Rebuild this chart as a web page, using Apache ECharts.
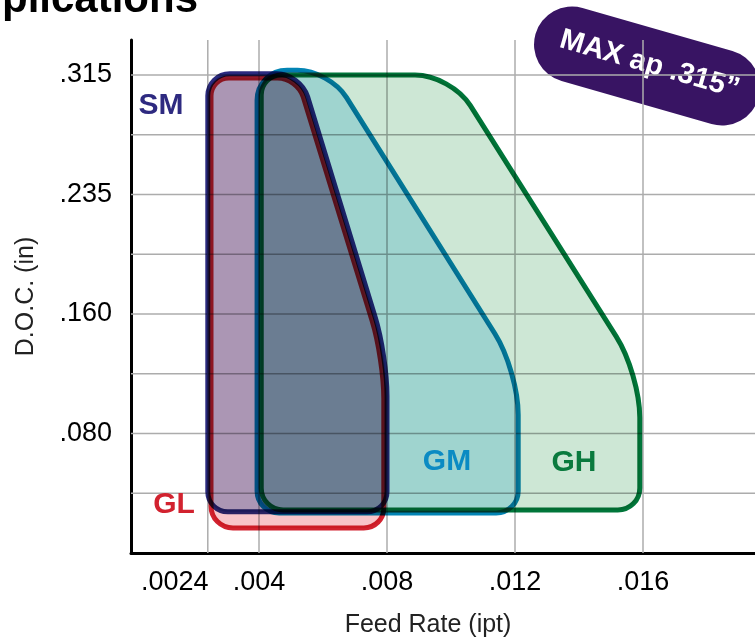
<!DOCTYPE html>
<html>
<head>
<meta charset="utf-8">
<script src="https://cdn.jsdelivr.net/npm/echarts@6/dist/echarts.min.js"></script>
<style>
  html, body { margin: 0; padding: 0; background: #ffffff; }
  #chart { width: 755px; height: 639px; }
</style>
</head>
<body>
<div id="chart"></div>
<script>
// Feed-rate axis (inches per tooth)
const feedTicks = [0.0024, 0.004, 0.008, 0.012, 0.016];
const feedTickLabels = ['.0024', '.004', '.008', '.012', '.016'];

// Depth-of-cut axis is laid out on evenly spaced rows
const docRows = [1, 2, 3, 4, 5, 6, 7, 8];
const docTickRows = [2, 4, 6, 8];
const docTickLabels = ['.080', '.160', '.235', '.315'];

// Operating windows: corners listed top-left, top-right, taper end, bottom-right, bottom-left
const ghFeed = [0.00407, 0.0100, 0.0159, 0.0159, 0.00407];
const ghDoc  = [8.00, 8.00, 3.00, 0.72, 0.72];

const gmFeed = [0.00394, 0.0062, 0.0121, 0.0121, 0.00394];
const gmDoc  = [8.08, 8.08, 3.05, 0.67, 0.67];

const glFeed = [0.0025, 0.0052, 0.0079, 0.0079, 0.0025];
const glDoc  = [7.95, 7.95, 3.25, 0.42, 0.42];

const smFeed = [0.0024, 0.0053, 0.0080, 0.0080, 0.0024];
const smDoc  = [8.02, 8.02, 3.30, 0.69, 0.69];

// Drawing styles for each window
const windowStyles = {
  GH: { fill: '#cde7d5', stroke: '#00763a', radii: [20, 36, 44, 22, 22], label: '#0a7a3e', labelPos: [574, 463] },
  GM: { fill: '#c6eaf8', stroke: '#0284b4', radii: [30, 32, 44, 22, 22], label: '#0b8bc3', labelPos: [447, 462] },
  GL: { fill: '#f8c4c9', stroke: '#d2222f', radii: [18, 20, 40, 20, 22], label: '#d2222f', labelPos: [174, 505] },
  SM: { fill: '#b0c3e4', stroke: '#2b2a7e', radii: [22, 24, 40, 20, 20], label: '#2e2a80', labelPos: [161, 106] }
};

const windows = [
  { name: 'GH', feed: ghFeed, doc: ghDoc },
  { name: 'GM', feed: gmFeed, doc: gmDoc },
  { name: 'GL', feed: glFeed, doc: glDoc },
  { name: 'SM', feed: smFeed, doc: smDoc }
];

const FONT = '"Liberation Sans", Arial, Helvetica, sans-serif';

function fmt(p) { return p[0].toFixed(2) + ' ' + p[1].toFixed(2); }

// Closed path with rounded corners through the given pixel points
function roundedPath(pts, radii) {
  const n = pts.length;
  let d = '';
  for (let i = 0; i < n; i++) {
    const V = pts[i], P = pts[(i - 1 + n) % n], N = pts[(i + 1) % n];
    const lp = Math.hypot(P[0] - V[0], P[1] - V[1]);
    const ln = Math.hypot(N[0] - V[0], N[1] - V[1]);
    const r = Math.min(radii[i], lp / 2, ln / 2);
    const A = [V[0] + (P[0] - V[0]) * r / lp, V[1] + (P[1] - V[1]) * r / lp];
    const B = [V[0] + (N[0] - V[0]) * r / ln, V[1] + (N[1] - V[1]) * r / ln];
    const k = 0.56;
    const C1 = [A[0] + (V[0] - A[0]) * k, A[1] + (V[1] - A[1]) * k];
    const C2 = [B[0] + (V[0] - B[0]) * k, B[1] + (V[1] - B[1]) * k];
    d += (i === 0 ? 'M ' : ' L ') + fmt(A) + ' C ' + fmt(C1) + ' ' + fmt(C2) + ' ' + fmt(B);
  }
  return d + ' Z';
}

const windowSeries = windows.map(w => {
  const st = windowStyles[w.name];
  return {
    type: 'custom',
    name: w.name,
    silent: true,
    data: w.feed.map((f, i) => [f, w.doc[i]]),
    renderItem: function (params, api) {
      if (params.dataIndex !== 0) return null;
      const pts = w.feed.map((f, i) => api.coord([f, w.doc[i]]));
      return {
        type: 'path',
        name: 'window-' + w.name,
        shape: { pathData: roundedPath(pts, st.radii) },
        style: {
          fill: st.fill,
          stroke: st.stroke,
          lineWidth: 5,
          lineJoin: 'round'
        }
      };
    }
  };
});

const gridColor = '#acacac';

const verticalGrid = {
  type: 'custom',
  silent: true,
  data: feedTicks.map(v => [v, 0]),
  renderItem: function (params, api) {
    const cs = params.coordSys;
    const p = api.coord([api.value(0), 0]);
    return {
      type: 'line',
      shape: { x1: p[0], y1: cs.y, x2: p[0], y2: cs.y + cs.height },
      style: { stroke: gridColor, lineWidth: 1.5 }
    };
  }
};

const horizontalGrid = {
  type: 'custom',
  silent: true,
  data: docRows.map(v => [0, v]),
  renderItem: function (params, api) {
    const cs = params.coordSys;
    const p = api.coord([0, api.value(1)]);
    return {
      type: 'line',
      shape: { x1: cs.x, y1: p[1], x2: cs.x + cs.width, y2: p[1] },
      style: { stroke: gridColor, lineWidth: 1.5 }
    };
  }
};

function lookup(values, labels, v) {
  for (let i = 0; i < values.length; i++) {
    if (Math.abs(values[i] - v) < 1e-9) return labels[i];
  }
  return '';
}

const labelTexts = windows.map(w => {
  const st = windowStyles[w.name];
  return {
    type: 'text',
    x: st.labelPos[0],
    y: st.labelPos[1],
    z: 100,
    style: {
      text: w.name,
      fill: st.label,
      font: 'bold 30px ' + FONT,
      align: 'center',
      verticalAlign: 'middle'
    }
  };
});

const chart = echarts.init(document.getElementById('chart'), null, { renderer: 'canvas' });

chart.setOption({
  backgroundColor: '#ffffff',
  animation: false,
  grid: { left: 131, top: 40, right: 0, bottom: 86, containLabel: false, outerBoundsMode: 'none' },
  xAxis: {
    type: 'value',
    min: 0,
    max: 0.0195,
    name: 'Feed Rate (ipt)',
    nameLocation: 'middle',
    nameGap: 60,
    nameTextStyle: { fontSize: 25, color: '#222', fontFamily: FONT, padding: [0, 30, 0, 0] },
    axisLine: { lineStyle: { color: '#000', width: 3 } },
    axisTick: { show: false },
    splitLine: { show: false },
    axisLabel: {
      customValues: feedTicks,
      hideOverlap: false,
      formatter: function (v) {
        const t = lookup(feedTicks, feedTickLabels, v);
        // the first label sits left of its line so it clears its neighbour
        return v < 0.003 ? '{left|' + t + '}' : t;
      },
      rich: {
        left: { fontSize: 27, color: '#000', fontFamily: FONT, padding: [0, 66, 0, 0] }
      },
      fontSize: 27,
      color: '#000',
      fontFamily: FONT,
      margin: 16
    }
  },
  yAxis: {
    type: 'value',
    min: 0,
    max: 8.586,
    name: 'D.O.C. (in)',
    nameLocation: 'middle',
    nameGap: 92,
    nameRotate: 90,
    nameTextStyle: { fontSize: 25, color: '#222', fontFamily: FONT },
    axisLine: { lineStyle: { color: '#000', width: 3 } },
    axisTick: { show: false },
    splitLine: { show: false },
    axisLabel: {
      customValues: docTickRows,
      formatter: v => lookup(docTickRows, docTickLabels, v),
      fontSize: 27,
      color: '#000',
      fontFamily: FONT,
      margin: 19
    }
  },
  graphic: [
    {
      type: 'text',
      x: 2,
      y: 0,
      z: 100,
      style: {
        text: 'plications',
        fill: '#000',
        font: 'bold 42px ' + FONT,
        align: 'left',
        verticalAlign: 'middle'
      }
    },
    {
      type: 'group',
      x: 647,
      y: 66,
      rotation: -16 * Math.PI / 180,
      z: 100,
      children: [
        {
          type: 'rect',
          shape: { x: -116, y: -38, width: 232, height: 76, r: 38 },
          style: { fill: '#381463' }
        },
        {
          type: 'text',
          x: 2,
          y: -2,
          style: {
            text: 'MAX ap .315\u201D',
            fill: '#ffffff',
            font: 'bold 29px ' + FONT,
            align: 'center',
            verticalAlign: 'middle'
          }
        }
      ]
    }
  ].concat(labelTexts),
  series: [verticalGrid, horizontalGrid].concat(windowSeries)
});

// Overlapping windows combine by multiplying their colours, like stacked tinted film
(function applyMultiply() {
  const zr = chart.getZr();
  zr.storage.getDisplayList(true).forEach(el => {
    if (el.name && el.name.indexOf('window-') === 0) {
      el.style.blend = 'multiply';
      el.markRedraw();
    } else if (el.style && typeof el.style.fill === 'string') {
      const f = el.style.fill.toLowerCase();
      Object.keys(windowStyles).forEach(k => {
        if (windowStyles[k].fill === f) { el.style.blend = 'multiply'; el.markRedraw(); }
      });
    }
  });
  zr.refreshImmediately();
})();
</script>
</body>
</html>
